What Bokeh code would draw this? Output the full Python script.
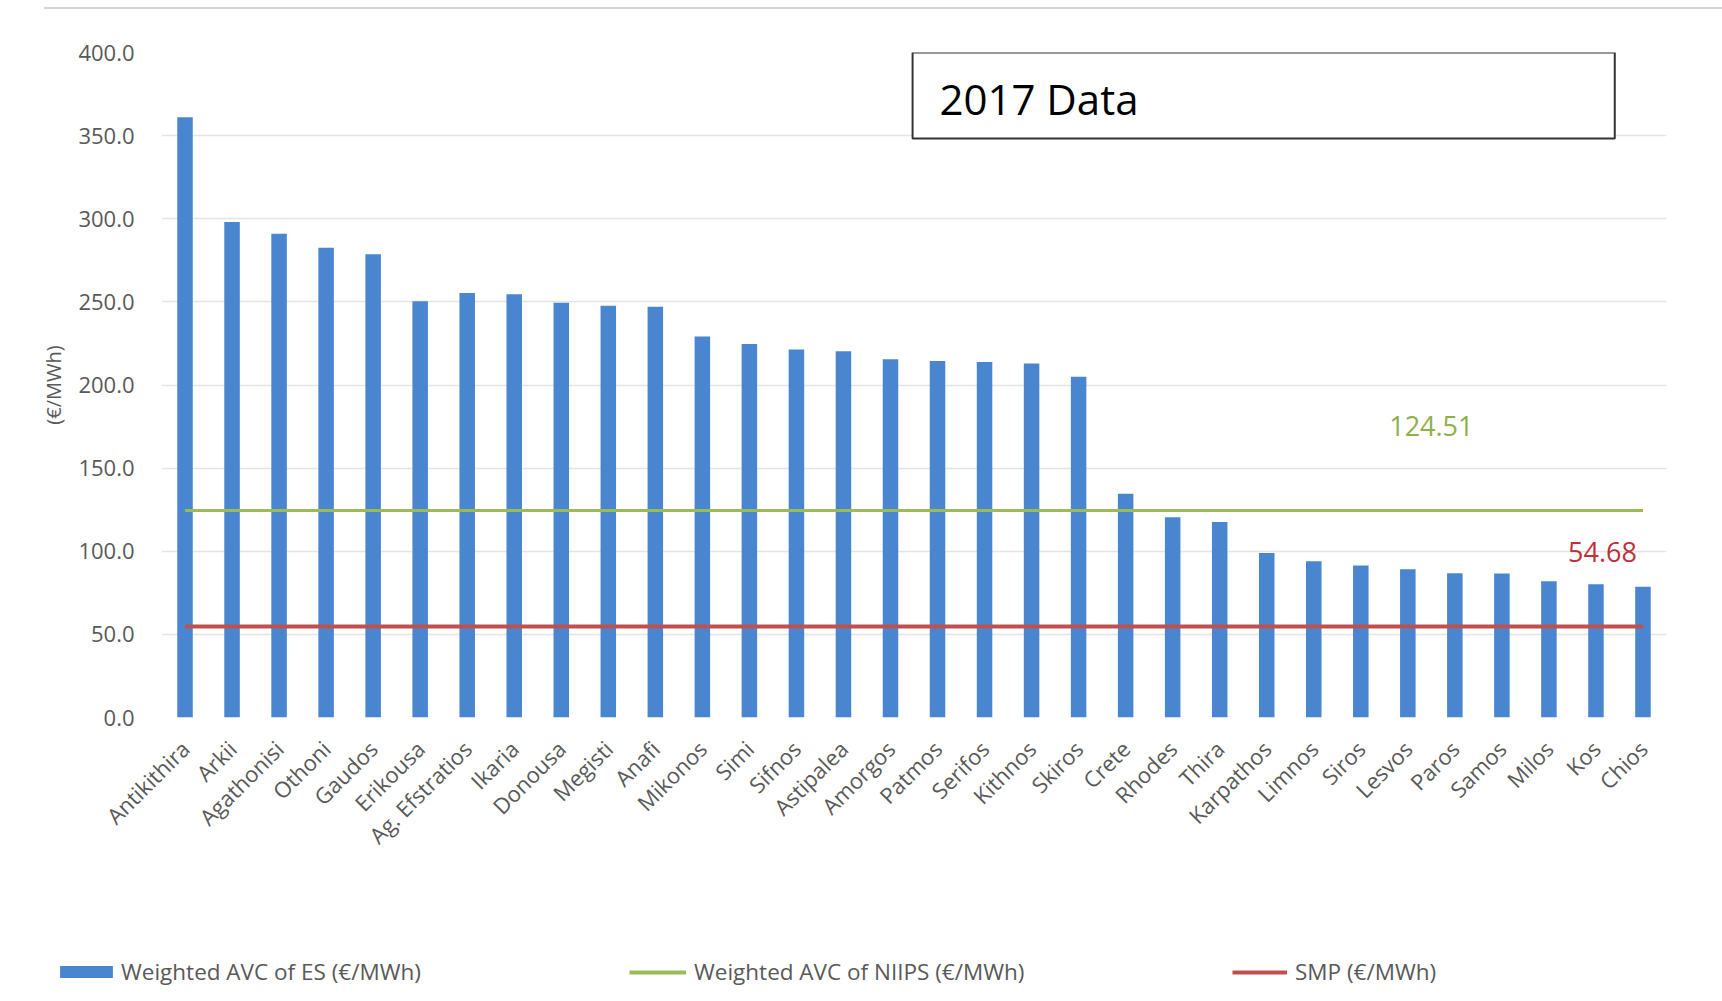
from math import pi
from bokeh.plotting import figure
from bokeh.models import (ColumnDataSource, FactorRange, Range1d, FixedTicker,
                          NumeralTickFormatter, Legend, LegendItem, BoxAnnotation, Label,
                          InlineStyleSheet)
from bokeh.embed import file_html
from bokeh.resources import INLINE

# ---- data ----
islands = ["Antikithira", "Arkii", "Agathonisi", "Othoni", "Gaudos", "Erikousa",
           "Ag. Efstratios", "Ikaria", "Donousa", "Megisti", "Anafi", "Mikonos",
           "Simi", "Sifnos", "Astipalea", "Amorgos", "Patmos", "Serifos", "Kithnos",
           "Skiros", "Crete", "Rhodes", "Thira", "Karpathos", "Limnos", "Siros",
           "Lesvos", "Paros", "Samos", "Milos", "Kos", "Chios"]
avc_es = [361.0, 298.0, 291.0, 282.6, 278.6, 250.4, 255.4, 254.6, 249.4, 247.6,
          247.0, 229.1, 224.7, 221.3, 220.3, 215.5, 214.5, 213.9, 212.9, 205.0,
          134.6, 120.5, 117.6, 99.0, 94.0, 91.4, 89.2, 86.8, 86.6, 82.0, 80.2, 78.6]
niips_avc = 124.51
smp = 54.68
y_ticks = [0, 50, 100, 150, 200, 250, 300, 350, 400]
series_names = ["Weighted AVC of ES (€/MWh)", "Weighted AVC of NIIPS (€/MWh)", "SMP (€/MWh)"]
title_text = "2017 Data"

FONT = "Open Sans"
GRAY = "#595959"
BLUE = "#4A86D0"
GREEN = "#9BBB59"
RED = "#C0504D"
W = 1722

src = ColumnDataSource(dict(island=islands, avc=avc_es))
ni_src = ColumnDataSource(dict(x=[islands[0], islands[-1]], y=[niips_avc, niips_avc]))
sm_src = ColumnDataSource(dict(x=[islands[0], islands[-1]], y=[smp, smp]))

# ---- main chart ----
p = figure(width=W, height=950,
           x_range=FactorRange(*islands, range_padding=0),
           y_range=Range1d(0, 400),
           output_backend="svg", toolbar_location=None,
           min_border_left=161, min_border_right=56,
           min_border_top=52, min_border_bottom=233)
p.outline_line_color = None
p.background_fill_color = "white"
p.border_fill_color = "white"
# thin page rule at the very top of the picture
p.stylesheets = [InlineStyleSheet(css=(
    ":host::before { content: ''; position: absolute; left: 44px; right: 0px; "
    "top: 7px; height: 2px; background: #D5D5D5; z-index: 100; }"))]

p.vbar(x="island", top="avc", width=0.33, source=src, fill_color=BLUE, line_color=None)
p.line(x="x", y="y", source=ni_src, line_color=GREEN, line_width=3)
p.line(x="x", y="y", source=sm_src, line_color=RED, line_width=4)

p.xgrid.grid_line_color = None
p.ygrid.grid_line_color = "#E4E4E4"
p.ygrid.grid_line_width = 1.5
p.yaxis.ticker = FixedTicker(ticks=y_ticks)
p.yaxis.formatter = NumeralTickFormatter(format="0.0")
for ax in (p.xaxis[0], p.yaxis[0]):
    ax.axis_line_color = None
    ax.major_tick_line_color = None
    ax.minor_tick_line_color = None
    ax.major_label_text_font = FONT
    ax.major_label_text_color = GRAY
p.yaxis.major_label_text_font_size = "22px"
p.xaxis.major_label_text_font_size = "22px"
p.yaxis.major_label_standoff = 21
p.yaxis.axis_label = "(€/MWh)"
p.yaxis.axis_label_text_font = FONT
p.yaxis.axis_label_text_font_size = "20px"
p.yaxis.axis_label_text_font_style = "normal"
p.yaxis.axis_label_text_color = GRAY
p.yaxis.axis_label_standoff = 8
p.xaxis.major_label_orientation = pi / 4
p.xaxis.major_label_standoff = 21

p.add_layout(Label(x=27.0, y=niips_avc + 51, text=f"{niips_avc:.2f}",
                   text_align="center", text_baseline="middle",
                   text_font=FONT, text_font_size="27px", text_color="#8DB04A"))
p.add_layout(Label(x=30.64, y=smp + 45, text=f"{smp:.2f}",
                   text_align="center", text_baseline="middle",
                   text_font=FONT, text_font_size="27px", text_color="#C0303A"))

p.add_layout(BoxAnnotation(left=15.97, right=30.9, top=400, bottom=348.3,
                           fill_color="white", fill_alpha=1.0,
                           line_color="#333333", line_width=2, line_alpha=1.0))
p.add_layout(Label(x=16.54, y=372.3, text=title_text, text_align="left",
                   text_baseline="middle", text_font=FONT,
                   text_font_size="42px", text_color="black"))

# ---- legend strip (separate root so its frame spans the full width) ----
leg = figure(width=W, height=51,
             x_range=FactorRange(*islands, range_padding=0), y_range=Range1d(0, 400),
             x_axis_type=None, y_axis_type=None, output_backend="svg",
             toolbar_location=None, min_border=0, outline_line_color=None)
leg.grid.visible = False
r_es = leg.vbar(x="island", top="avc", width=0.33, source=src,
                fill_color=BLUE, line_color=None, visible=False)
r_ni = leg.line(x="x", y="y", source=ni_src, line_color=GREEN, line_width=4, visible=False)
r_sm = leg.line(x="x", y="y", source=sm_src, line_color=RED, line_width=4, visible=False)


def add_legend(renderer, name, x, gw, gh, standoff):
    lg = Legend(items=[LegendItem(label=name, renderers=[renderer])],
                location=(x, 14), orientation="horizontal",
                padding=0, margin=0, spacing=0,
                glyph_width=gw, glyph_height=gh, label_standoff=standoff,
                label_text_font=FONT, label_text_font_size="22.5px",
                label_text_color=GRAY, inactive_fill_alpha=0.0,
                border_line_color=None, background_fill_alpha=0)
    leg.add_layout(lg, "center")


add_legend(r_es, series_names[0], 53, 66, 15, 2)
add_legend(r_ni, series_names[1], 629, 57, 20, 8)
add_legend(r_sm, series_names[2], 1232, 55, 20, 8)

open("out.html", "w").write(file_html([p, leg], INLINE))
